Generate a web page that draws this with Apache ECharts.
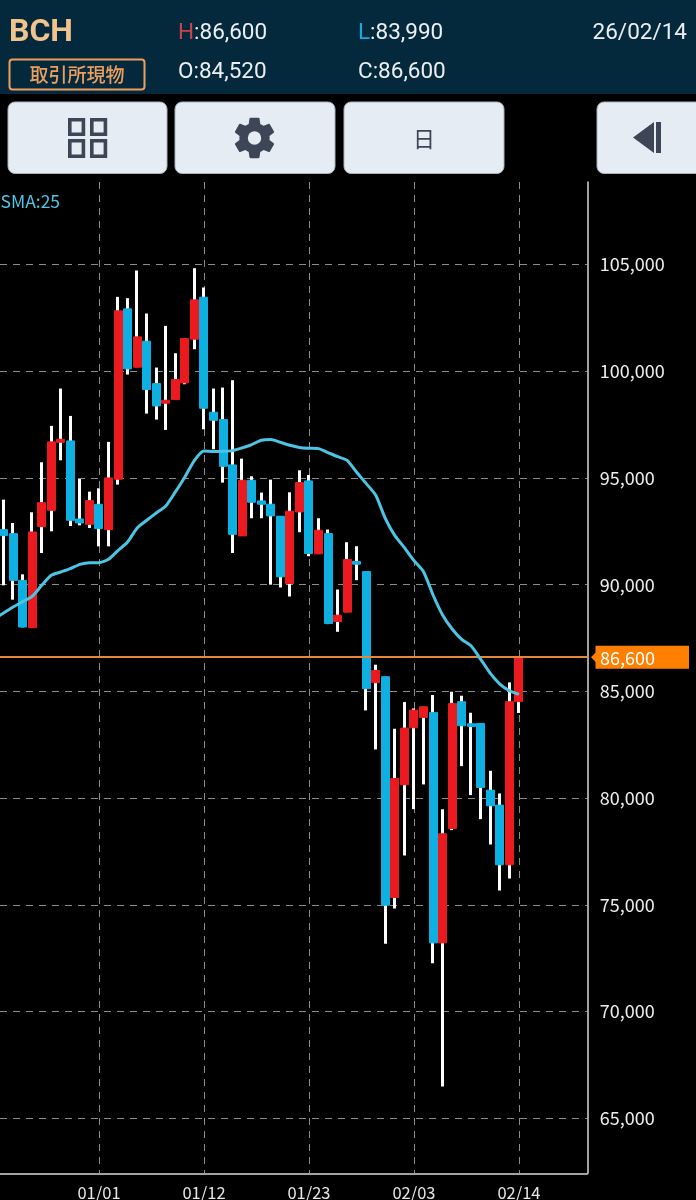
<!DOCTYPE html>
<html>
<head>
<meta charset="utf-8">
<style>html,body{margin:0;padding:0;background:#000;overflow:hidden}#c{width:696px;height:1200px}</style>
<script src="https://cdn.jsdelivr.net/npm/echarts@6/dist/echarts.min.js"></script>
</head>
<body>
<div id="c"></div>
<script>
const dates = ['12/22','12/23','12/24','12/25','12/26','12/27','12/28','12/29','12/30','12/31','01/01','01/02','01/03','01/04','01/05','01/06','01/07','01/08','01/09','01/10','01/11','01/12','01/13','01/14','01/15','01/16','01/17','01/18','01/19','01/20','01/21','01/22','01/23','01/24','01/25','01/26','01/27','01/28','01/29','01/30','01/31','02/01','02/02','02/03','02/04','02/05','02/06','02/07','02/08','02/09','02/10','02/11','02/12','02/13','02/14'];
const opens = [92578,92391,90203,87984,92719,93484,96672,96734,93078,92828,93766,92578,94938,102922,100188,101406,99422,98500,98672,99453,101500,103469,98078,97734,95609,92286,94890,93924,93768,93206,90055,93409,94860,91443,92395,88276,88713,91084,90616,85406,85688,75344,80625,83297,83781,84016,73219,78578,84516,83484,83500,80375,79672,76875,84520];
const closes = [92297,90203,88016,92469,93844,96688,96813,93016,92891,93938,92625,95000,102828,100109,101609,99141,98375,98641,99609,101531,103344,98266,97703,95547,92359,94890,93861,93768,93222,90367,93440,94782,91459,92551,88183,88573,91178,90960,85125,85984,74984,80922,83281,84125,84281,73219,78328,84438,83391,83359,80500,79641,76875,84516,86600];
const lows = [89969,89297,88000,87984,91484,92500,95828,92750,92781,92656,91797,91797,94688,99844,100188,98016,97734,97250,98672,99390,101031,97281,96344,94781,91484,92286,93112,93112,90000,89868,89446,92457,91334,91443,88152,87793,88713,90211,84109,82281,73172,74828,77313,79484,80641,72266,66487,78500,81500,80141,79016,77828,75672,76234,83990];
const highs = [93984,92891,90484,93391,95734,97438,99188,97906,94953,94359,94516,96688,103484,103422,104719,102703,100172,102125,100844,101531,104828,103922,99188,99234,99578,95905,95078,94314,94922,93206,94329,95359,95140,93112,92582,89774,91989,91802,90616,86250,85688,83250,84500,84203,84281,84828,79484,84984,84797,84000,83500,81281,80219,85422,86600];
const sma = [88672,88953,89203,89453,89969,90438,90594,90750,90953,91031,91031,91188,91609,92000,92656,93016,93359,93688,94344,95047,95828,96266,96234,96250,96281,96406,96563,96766,96797,96672,96530,96430,96390,96373,96186,95998,95827,95265,94735,94189,93100,92297,91734,91125,90609,89516,88578,87922,87437,87125,86500,85844,85344,85031,84860];
const smaBefore = 88400;
const priceTicks = [65000,70000,75000,80000,85000,90000,95000,100000,105000];
const dateTicks = ['01/01','01/12','01/23','02/03','02/14'];
const lastPrice = 86600;
const yMin = 62423, yMax = 108865, xMin = -0.372, xMax = 61.16;

const UP = '#ea1a1e', DOWN = '#0eb0e2', ORANGE = '#ff7f00', ICON = '#3c4657', BTN = '#e6ecf3';
const CJK = '"Noto Sans CJK JP"', LATIN = 'Roboto';
const idx = dates.map((d, i) => i);
const wickData = idx.map(i => [i, opens[i], closes[i], lows[i], highs[i]]);
const bodyData = idx.map(i => [i, opens[i], closes[i], Math.min(opens[i], closes[i]), Math.max(opens[i], closes[i])]);

const gearPath = 'M19.14 12.94c.04-.3.06-.61.06-.94 0-.32-.02-.64-.07-.94l2.03-1.58a.49.49 0 0 0 .12-.61l-1.92-3.32a.488.488 0 0 0-.59-.29l-2.39.96c-.5-.38-1.03-.7-1.62-.94l-.36-2.54a.484.484 0 0 0-.48-.41h-3.84c-.24 0-.43.17-.47.41l-.36 2.54c-.59.24-1.13.57-1.62.94l-2.39-.96c-.22-.08-.47 0-.59.22L2.74 8.87c-.12.21-.08.47.12.61l2.03 1.58c-.05.3-.09.63-.09.94s.02.64.07.94l-2.03 1.58a.49.49 0 0 0-.12.61l1.92 3.32c.12.22.37.29.59.22l2.39-.96c.5.38 1.03.7 1.62.94l.36 2.54c.05.24.24.41.48.41h3.84c.24 0 .44-.17.47-.41l.36-2.54c.59-.24 1.13-.56 1.62-.94l2.39.96c.22.08.47 0 .59-.22l1.92-3.32c.12-.22.07-.47-.12-.61l-2.01-1.58z';
echarts.graphic.registerShape('gearIcon', echarts.graphic.extendPath(gearPath, {}));

const chart = echarts.init(document.getElementById('c'), null, {renderer: 'canvas', width: 696, height: 1200});

const gridLine = {show: true, lineStyle: {color: '#8c8c8c', width: 1, type: [7, 6]}};
const axisLine = {show: true, onZero: false, lineStyle: {color: '#d8d8d8', width: 1.5}};

function button(x, w) {
  return {type: 'rect', shape: {x: x, y: 102, width: w, height: 71.5, r: 7}, style: {fill: BTN, stroke: '#aab2bb', lineWidth: 1}, z: 10};
}
function square(x, y, h) {
  return {type: 'rect', shape: {x: x, y: y, width: 13.6, height: h}, style: {fill: 'none', stroke: ICON, lineWidth: 3.6}, z: 11};
}
function headText(x, y, key, color, val) {
  return {type: 'text', x: x, y: y, z: 11, style: {
    text: '{k|' + key + '}{v|:' + val + '}',
    rich: {
      k: {fill: color, font: '22.5px ' + LATIN},
      v: {fill: '#eceff1', font: '22.5px ' + LATIN}
    },
    verticalAlign: 'middle'
  }};
}

const chrome = [
  {type: 'rect', shape: {x: 0, y: 0, width: 696, height: 94}, style: {fill: '#05293c'}, z: 9},
  {type: 'text', x: 9, y: 33, z: 11, style: {text: 'BCH', fill: '#f2c48d', font: 'bold 32px ' + LATIN, verticalAlign: 'middle'}},
  {type: 'rect', shape: {x: 9.5, y: 59.5, width: 135, height: 30, r: 3}, style: {fill: 'none', stroke: '#ee9f5e', lineWidth: 2}, z: 11},
  {type: 'text', x: 77, y: 75, z: 11, style: {text: '取引所現物', fill: '#ee9f5e', font: '500 19px ' + CJK, align: 'center', verticalAlign: 'middle'}},
  headText(178, 33, 'H', '#c8434c', '86,600'),
  headText(358, 33, 'L', '#1ba9dc', '83,990'),
  headText(178, 72.5, 'O', '#eceff1', '84,520'),
  headText(358, 72.5, 'C', '#eceff1', '86,600'),
  {type: 'text', x: 687, y: 33, z: 11, style: {text: '26/02/14', fill: '#eceff1', font: '22.5px ' + LATIN, align: 'right', verticalAlign: 'middle'}},
  button(8, 159), button(175, 160), button(344, 160), button(597, 110),
  square(69.8, 119.8, 14.4), square(91.8, 119.8, 14.4), square(69.8, 140.8, 15.4), square(91.8, 140.8, 15.4),
  {type: 'gearIcon', z: 11, x: 229.3, y: 112.8, scaleX: 2.1, scaleY: 2.1, style: {fill: ICON}},
  {type: 'circle', z: 12, shape: {cx: 254.5, cy: 138, r: 6.7}, style: {fill: BTN}},
  {type: 'text', x: 424, y: 139, z: 11, style: {text: '日', fill: ICON, font: '22px ' + CJK, align: 'center', verticalAlign: 'middle'}},
  {type: 'polygon', z: 11, shape: {points: [[633, 137.5], [654, 122], [654, 153]]}, style: {fill: ICON}},
  {type: 'rect', z: 11, shape: {x: 656, y: 122, width: 5, height: 31}, style: {fill: ICON}},
  {type: 'text', x: 0.5, y: 201, z: 11, style: {text: 'SMA:25', fill: '#4fc6e6', font: '17.5px ' + CJK, verticalAlign: 'middle'}}
];

chart.setOption({
  backgroundColor: '#000',
  animation: false,
  grid: {left: 0, top: 182, width: 587.3, height: 991.3, containLabel: false, outerBoundsMode: 'none'},
  xAxis: {
    type: 'value', min: xMin, max: xMax, scale: true,
    axisLine: axisLine,
    axisTick: {show: false, customValues: dateTicks.map(d => dates.indexOf(d))},
    splitLine: gridLine,
    axisLabel: {
      customValues: dateTicks.map(d => dates.indexOf(d)),
      formatter: v => dates[v], color: '#e8e8e8', fontFamily: CJK, fontSize: 16.5, margin: 11
    }
  },
  yAxis: {
    type: 'value', position: 'right', min: yMin, max: yMax, scale: true,
    axisLine: axisLine,
    axisTick: {show: false, customValues: priceTicks},
    splitLine: gridLine,
    axisLabel: {
      customValues: priceTicks,
      formatter: v => v.toLocaleString('en-US'), color: '#eeeeee', fontFamily: CJK, fontSize: 18, margin: 12.5
    }
  },
  graphic: chrome,
  series: [
    {
      type: 'candlestick', name: 'wick', data: wickData, barWidth: 1, z: 3,
      encode: {x: 0, y: [1, 2, 3, 4]},
      itemStyle: {color: '#fff', color0: '#fff', borderColor: '#fff', borderColor0: '#fff', borderWidth: 3}
    },
    {
      type: 'candlestick', name: 'BCH', data: bodyData, barWidth: 8.5, z: 4,
      encode: {x: 0, y: [1, 2, 3, 4]},
      itemStyle: {color: UP, color0: DOWN, borderColor: UP, borderColor0: DOWN, borderWidth: 1}
    },
    {
      type: 'line', name: 'SMA:25', data: [[-1, smaBefore]].concat(idx.map(i => [i, sma[i]])), z: 5, showSymbol: false, smooth: 0.2,
      lineStyle: {color: '#4cc4e4', width: 3},
      markLine: {
        silent: true, symbol: 'none', animation: false, label: {show: false},
        lineStyle: {color: '#e8873a', width: 2.2, type: 'solid'},
        data: [{yAxis: lastPrice}]
      }
    }
  ]
});

const py = chart.convertToPixel({yAxisIndex: 0}, lastPrice);
chart.setOption({graphic: chrome.concat([
  {type: 'polygon', z: 11, shape: {points: [[591, py], [596, py - 5], [689, py - 5], [689, py + 5], [596, py + 5]]}, style: {fill: ORANGE}},
  {type: 'rect', z: 11, shape: {x: 595.5, y: py - 11.5, width: 93.5, height: 23}, style: {fill: ORANGE}},
  {type: 'text', x: 600, y: py + 1, z: 12, style: {text: lastPrice.toLocaleString('en-US'), fill: '#fff', font: '18px ' + CJK, verticalAlign: 'middle'}}
])});
</script>
</body>
</html>
